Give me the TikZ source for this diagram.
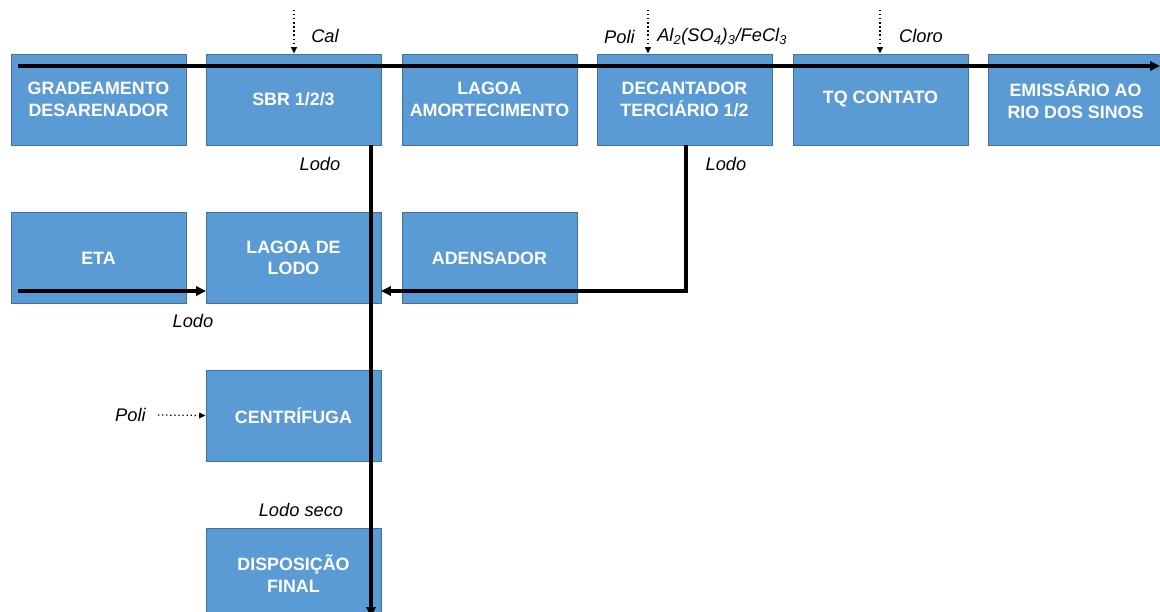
\documentclass[tikz,border=0pt]{standalone}
\usepackage{fontspec}
\setmainfont{Liberation Sans}
\usetikzlibrary{arrows.meta}
\definecolor{caixa}{HTML}{5B9BD5}
\definecolor{borda}{HTML}{41719C}
\tikzset{
  etapa/.style={fill=caixa, draw=borda, line width=0.6pt, minimum width=4.375cm, minimum height=2.275cm,
    inner sep=0pt, align=center, text=white, font=\fontsize{12.7}{15.4}\selectfont\bfseries},
  fluxo/.style={line width=2.4pt, -{Triangle[length=7pt,width=6.5pt]}},
  dosagem/.style={dotted, line width=0.9pt, -{Triangle[length=4.5pt,width=4pt]}},
  rotulo/.style={font=\fontsize{13}{15}\selectfont\itshape, inner sep=0pt}
}
\begin{document}
\begin{tikzpicture}[x=0.025cm, y=-0.025cm]
  \useasboundingbox (0,0) rectangle (1160,612);
  \draw
    (98.5,99.5) node[etapa] (grade){GRADEAMENTO\\DESARENADOR}
    (293.5,99.5) node[etapa] (sbr){SBR 1/2/3}
    (489.5,99.5) node[etapa] (amort){LAGOA\\AMORTECIMENTO}
    (684.5,99.5) node[etapa] (decant){DECANTADOR\\TERCIÁRIO 1/2}
    (880.5,99.5) node[etapa] (tq){TQ CONTATO}
    (1075.5,99.5) node[etapa] (emiss){EMISSÁRIO AO\\RIO DOS SINOS}
    (98.5,258) node[etapa] (eta){ETA}
    (293.5,258) node[etapa] (lagoa){LAGOA DE\\LODO}
    (489.5,258) node[etapa] (adens){ADENSADOR}
    (293.5,415.5) node[etapa] (centrif){CENTRÍFUGA}
    (293.5,573.5) node[etapa] (dispo){DISPOSIÇÃO\\FINAL};
  \coordinate (entrada) at (18,66);
  \coordinate (saida) at (1160,66);
  \coordinate (lodoSbr) at (371,145);
  \coordinate (lodoFim) at (371,617);
  \coordinate (lodoDec) at (686,145);
  \coordinate (lodoLagoa) at (381,291);
  \coordinate (lodoEta) at (18,291);
  \coordinate (etaLagoa) at (206,291);
  \coordinate (calIn) at (294,10);
  \coordinate (quimIn) at (648,10);
  \coordinate (cloroIn) at (880,10);
  \draw
    (325,36) node[rotulo] (cal){Cal}
    (635,37) node[rotulo, anchor=east] (poli1){Poli}
    (657,37) node[rotulo, anchor=west] (quim){Al\textsubscript{2}(SO\textsubscript{4})\textsubscript{3}/FeCl\textsubscript{3}}
    (921,36) node[rotulo] (cloro){Cloro}
    (320,164) node[rotulo] (lodo1){Lodo}
    (726,164) node[rotulo] (lodo2){Lodo}
    (193,321) node[rotulo] (lodo3){Lodo}
    (301,510) node[rotulo] (lodoseco){Lodo seco}
    (146,415) node[rotulo, anchor=east] (poli2){Poli};
  \begin{scope}[fluxo]
    \draw (entrada) to (saida);
    \draw (lodoSbr) to (lodoFim);
    \draw (lodoDec) |- (lodoLagoa);
    \draw (lodoEta) to (etaLagoa);
  \end{scope}
  \begin{scope}[dosagem]
    \draw (calIn) to (calIn |- sbr.north);
    \draw (quimIn) to (quimIn |- decant.north);
    \draw (cloroIn) to (cloroIn |- tq.north);
    \draw (poli2.east) ++(12,0) to (centrif.west);
  \end{scope}
\end{tikzpicture}
\end{document}
